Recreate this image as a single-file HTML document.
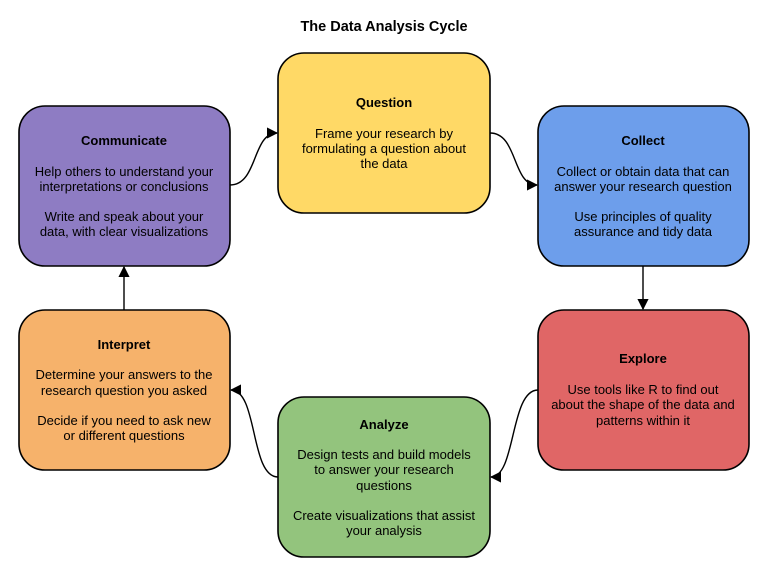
<!DOCTYPE html>
<html><head><style>html,body{margin:0;padding:0;background:#fff}</style></head><body>
<svg width="768" height="576" viewBox="0 0 768 576" xmlns="http://www.w3.org/2000/svg" font-family="Liberation Sans, Arial, sans-serif" font-size="13" fill="#000">
<defs><marker id="a" viewBox="0 0 10 10" refX="9" refY="5" markerWidth="8" markerHeight="8" orient="auto"><path d="M0,0 L10,5 L0,10 z" fill="#000"/></marker></defs>
<text x="384" y="31" text-anchor="middle" font-weight="bold" font-size="14.5">The Data Analysis Cycle</text>
<g stroke="#000" stroke-width="1.6">
<rect x="278" y="53" width="212" height="160" rx="26" fill="#ffd966"/>
<rect x="19" y="106" width="211" height="160" rx="26" fill="#8e7cc3"/>
<rect x="538" y="106" width="211" height="160" rx="26" fill="#6d9eeb"/>
<rect x="538" y="310" width="211" height="160" rx="26" fill="#e06666"/>
<rect x="19" y="310" width="211" height="160" rx="26" fill="#f6b26b"/>
<rect x="278" y="397" width="212" height="160" rx="26" fill="#93c47d"/>
</g>
<g stroke="#000" stroke-width="1.4" fill="none" marker-end="url(#a)">
<path d="M230,185 C258,185 252,133 277,133"/>
<path d="M490,133 C518,133 512,185 537,185"/>
<path d="M643,266 L643,309"/>
<path d="M538,390 C510,390 516,477 491,477"/>
<path d="M278,477 C250,477 258,390 231,390"/>
<path d="M124,310 L124,267"/>
</g>
<g text-anchor="middle">
<text x="384" y="107" font-weight="bold">Question</text>
<text x="384" y="138">Frame your research by</text>
<text x="384" y="153">formulating a question about</text>
<text x="384" y="168">the data</text>

<text x="124" y="145" font-weight="bold">Communicate</text>
<text x="124" y="176">Help others to understand your</text>
<text x="124" y="191">interpretations or conclusions</text>
<text x="124" y="221">Write and speak about your</text>
<text x="124" y="236">data, with clear visualizations</text>

<text x="643" y="145" font-weight="bold">Collect</text>
<text x="643" y="176">Collect or obtain data that can</text>
<text x="643" y="191">answer your research question</text>
<text x="643" y="221">Use principles of quality</text>
<text x="643" y="236">assurance and tidy data</text>

<text x="643" y="363" font-weight="bold">Explore</text>
<text x="643" y="394">Use tools like R to find out</text>
<text x="643" y="409">about the shape of the data and</text>
<text x="643" y="425">patterns within it</text>

<text x="124" y="349" font-weight="bold">Interpret</text>
<text x="124" y="379">Determine your answers to the</text>
<text x="124" y="395">research question you asked</text>
<text x="124" y="425">Decide if you need to ask new</text>
<text x="124" y="440">or different questions</text>

<text x="384" y="429" font-weight="bold">Analyze</text>
<text x="384" y="459">Design tests and build models</text>
<text x="384" y="474">to answer your research</text>
<text x="384" y="490">questions</text>
<text x="384" y="520">Create visualizations that assist</text>
<text x="384" y="535">your analysis</text>
</g>
</svg>
</body></html>
